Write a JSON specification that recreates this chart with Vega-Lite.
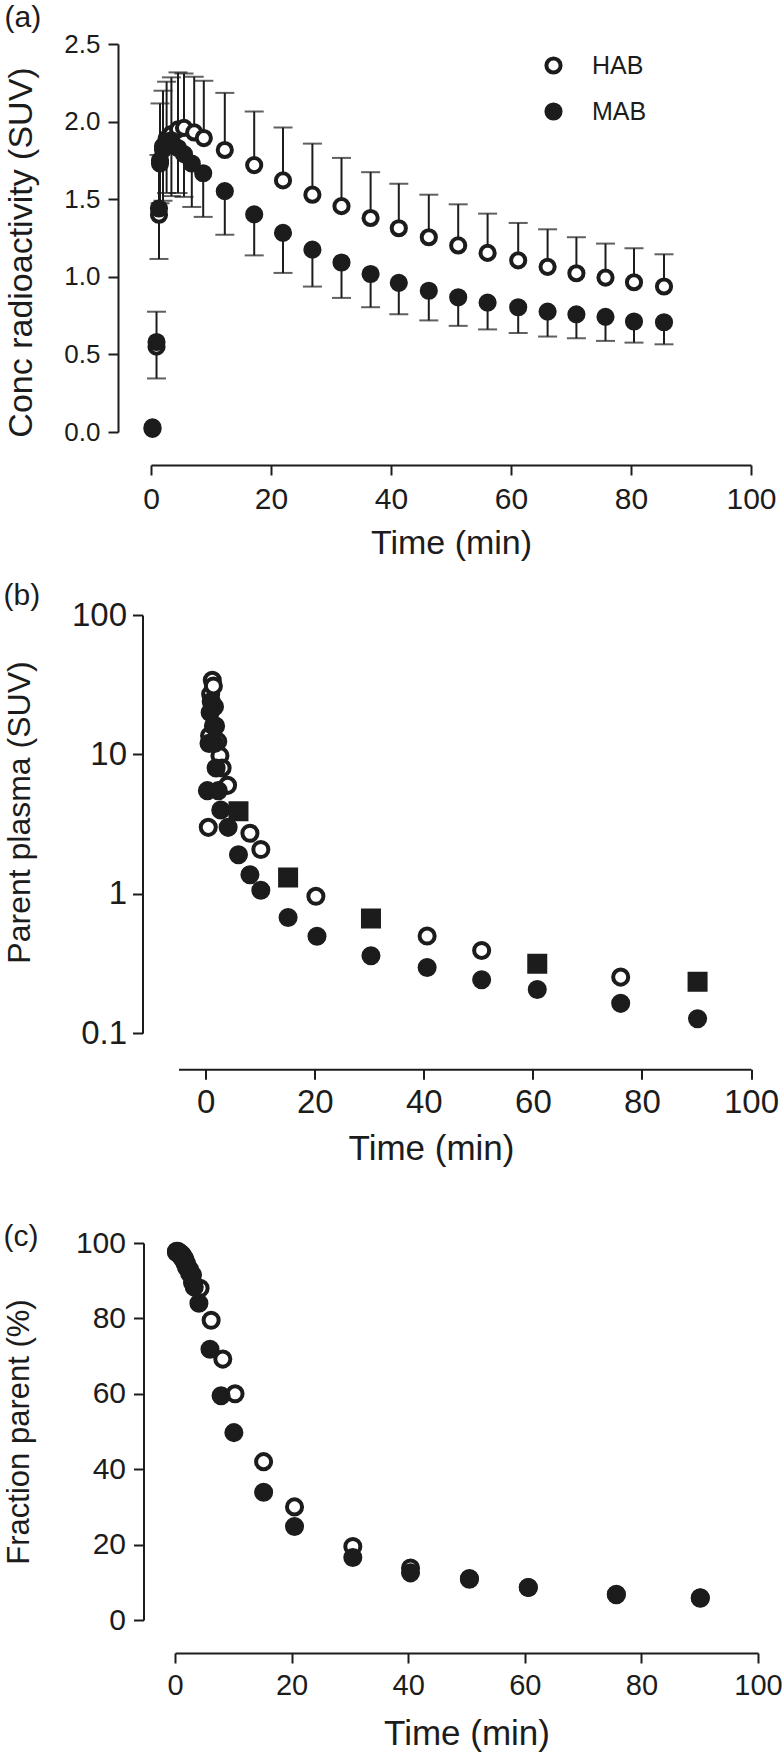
{
  "$schema": "https://vega.github.io/schema/vega-lite/v6.json",
  "background": "white",
  "padding": {"left": 3, "top": 3, "right": 5, "bottom": 5},
  "config": {
    "view": {"stroke": null},
    "font": "Liberation Sans",
    "axis": {"grid": false, "domainColor": "#1c1c1c", "domainWidth": 2, "tickColor": "#1c1c1c", "tickWidth": 2, "tickSize": 10, "labelColor": "#1c1c1c", "titleColor": "#1c1c1c", "titleFontWeight": "normal", "labelFlush": false, "labelOverlap": false, "labelFont": "Liberation Sans", "titleFont": "Liberation Sans"},
    "title": {"fontWeight": "normal", "color": "#1c1c1c", "anchor": "start", "frame": "bounds", "fontSize": 30, "font": "Liberation Sans"}
  },
  "datasets": {
    "a": [
      {"t": 0.25, "g": "HAB", "v": 0.02, "e": null},
      {"t": 0.92, "g": "HAB", "v": 0.55, "e": 0.775},
      {"t": 1.33, "g": "HAB", "v": 1.40, "e": 1.785},
      {"t": 1.5, "g": "HAB", "v": 1.75, "e": 2.117},
      {"t": 2.0, "g": "HAB", "v": 1.84, "e": 2.199},
      {"t": 2.6, "g": "HAB", "v": 1.89, "e": 2.257},
      {"t": 3.4, "g": "HAB", "v": 1.92, "e": 2.285},
      {"t": 4.5, "g": "HAB", "v": 1.95, "e": 2.317},
      {"t": 5.5, "g": "HAB", "v": 1.96, "e": 2.31},
      {"t": 7.2, "g": "HAB", "v": 1.93, "e": 2.289},
      {"t": 8.8, "g": "HAB", "v": 1.894, "e": 2.263},
      {"t": 12.3, "g": "HAB", "v": 1.817, "e": 2.185},
      {"t": 17.2, "g": "HAB", "v": 1.72, "e": 2.065},
      {"t": 22.0, "g": "HAB", "v": 1.621, "e": 1.962},
      {"t": 26.9, "g": "HAB", "v": 1.529, "e": 1.858},
      {"t": 31.75, "g": "HAB", "v": 1.455, "e": 1.766},
      {"t": 36.6, "g": "HAB", "v": 1.379, "e": 1.674},
      {"t": 41.3, "g": "HAB", "v": 1.313, "e": 1.60},
      {"t": 46.3, "g": "HAB", "v": 1.255, "e": 1.529},
      {"t": 51.2, "g": "HAB", "v": 1.202, "e": 1.467},
      {"t": 56.1, "g": "HAB", "v": 1.154, "e": 1.407},
      {"t": 61.2, "g": "HAB", "v": 1.106, "e": 1.347},
      {"t": 66.1, "g": "HAB", "v": 1.064, "e": 1.306},
      {"t": 70.9, "g": "HAB", "v": 1.023, "e": 1.255},
      {"t": 75.75, "g": "HAB", "v": 0.995, "e": 1.214},
      {"t": 80.5, "g": "HAB", "v": 0.965, "e": 1.184},
      {"t": 85.5, "g": "HAB", "v": 0.9375, "e": 1.145},
      {"t": 0.25, "g": "MAB", "v": 0.03, "e": null},
      {"t": 0.92, "g": "MAB", "v": 0.58, "e": 0.345},
      {"t": 1.33, "g": "MAB", "v": 1.44, "e": 1.115},
      {"t": 1.5, "g": "MAB", "v": 1.73, "e": 1.474},
      {"t": 2.0, "g": "MAB", "v": 1.82, "e": 1.49},
      {"t": 2.6, "g": "MAB", "v": 1.86, "e": 1.54},
      {"t": 3.4, "g": "MAB", "v": 1.88, "e": 1.52},
      {"t": 4.5, "g": "MAB", "v": 1.83, "e": 1.54},
      {"t": 5.5, "g": "MAB", "v": 1.79, "e": 1.515},
      {"t": 6.8, "g": "MAB", "v": 1.73, "e": 1.45},
      {"t": 8.7, "g": "MAB", "v": 1.667, "e": 1.386},
      {"t": 12.3, "g": "MAB", "v": 1.552, "e": 1.271},
      {"t": 17.2, "g": "MAB", "v": 1.402, "e": 1.138},
      {"t": 22.0, "g": "MAB", "v": 1.283, "e": 1.025},
      {"t": 26.9, "g": "MAB", "v": 1.175, "e": 0.937},
      {"t": 31.75, "g": "MAB", "v": 1.092, "e": 0.864},
      {"t": 36.6, "g": "MAB", "v": 1.018, "e": 0.804},
      {"t": 41.3, "g": "MAB", "v": 0.961, "e": 0.758},
      {"t": 46.3, "g": "MAB", "v": 0.91, "e": 0.719},
      {"t": 51.2, "g": "MAB", "v": 0.868, "e": 0.684},
      {"t": 56.1, "g": "MAB", "v": 0.834, "e": 0.661},
      {"t": 61.2, "g": "MAB", "v": 0.804, "e": 0.638},
      {"t": 66.1, "g": "MAB", "v": 0.776, "e": 0.615},
      {"t": 70.9, "g": "MAB", "v": 0.758, "e": 0.604},
      {"t": 75.75, "g": "MAB", "v": 0.742, "e": 0.587},
      {"t": 80.5, "g": "MAB", "v": 0.712, "e": 0.576},
      {"t": 85.5, "g": "MAB", "v": 0.707, "e": 0.565}
    ],
    "b": [
      {"t": 0.46, "g": "HAB", "v": 3.0},
      {"t": 0.7, "g": "HAB", "v": 13.6},
      {"t": 0.9, "g": "HAB", "v": 27},
      {"t": 1.2, "g": "HAB", "v": 34},
      {"t": 1.4, "g": "HAB", "v": 31},
      {"t": 1.6, "g": "HAB", "v": 22},
      {"t": 1.8, "g": "HAB", "v": 16},
      {"t": 2.2, "g": "HAB", "v": 12.4},
      {"t": 2.6, "g": "HAB", "v": 9.8},
      {"t": 3.0, "g": "HAB", "v": 8.0},
      {"t": 4.0, "g": "HAB", "v": 6.0},
      {"t": 8.1, "g": "HAB", "v": 2.72},
      {"t": 10.1, "g": "HAB", "v": 2.08},
      {"t": 20.2, "g": "HAB", "v": 0.96},
      {"t": 40.6, "g": "HAB", "v": 0.498},
      {"t": 50.6, "g": "HAB", "v": 0.393},
      {"t": 76.1, "g": "HAB", "v": 0.253},
      {"t": 0.3, "g": "MAB", "v": 5.5},
      {"t": 0.6, "g": "MAB", "v": 12},
      {"t": 0.8, "g": "MAB", "v": 20},
      {"t": 1.0, "g": "MAB", "v": 24},
      {"t": 1.2, "g": "MAB", "v": 22},
      {"t": 1.4, "g": "MAB", "v": 16},
      {"t": 1.6, "g": "MAB", "v": 12},
      {"t": 1.9, "g": "MAB", "v": 8},
      {"t": 2.3, "g": "MAB", "v": 5.5},
      {"t": 2.75, "g": "MAB", "v": 4.0},
      {"t": 4.1, "g": "MAB", "v": 3.0},
      {"t": 6.0, "g": "MAB", "v": 1.91},
      {"t": 8.1, "g": "MAB", "v": 1.37},
      {"t": 10.1, "g": "MAB", "v": 1.06},
      {"t": 15.1, "g": "MAB", "v": 0.676},
      {"t": 20.4, "g": "MAB", "v": 0.497},
      {"t": 30.3, "g": "MAB", "v": 0.36},
      {"t": 40.6, "g": "MAB", "v": 0.296},
      {"t": 50.6, "g": "MAB", "v": 0.242},
      {"t": 60.8, "g": "MAB", "v": 0.206},
      {"t": 76.1, "g": "MAB", "v": 0.164},
      {"t": 90.2, "g": "MAB", "v": 0.127},
      {"t": 6.0, "g": "S", "v": 3.92},
      {"t": 15.1, "g": "S", "v": 1.31},
      {"t": 30.3, "g": "S", "v": 0.667},
      {"t": 60.8, "g": "S", "v": 0.315},
      {"t": 90.2, "g": "S", "v": 0.234}
    ],
    "c": [
      {"t": 0.25, "g": "HAB", "v": 97.8},
      {"t": 0.5, "g": "HAB", "v": 97.8},
      {"t": 0.75, "g": "HAB", "v": 97.5},
      {"t": 1.0, "g": "HAB", "v": 97.2},
      {"t": 1.25, "g": "HAB", "v": 96.8},
      {"t": 1.5, "g": "HAB", "v": 96.2},
      {"t": 1.75, "g": "HAB", "v": 95.5},
      {"t": 2.0, "g": "HAB", "v": 94.5},
      {"t": 2.5, "g": "HAB", "v": 93},
      {"t": 3.0, "g": "HAB", "v": 91.5},
      {"t": 4.3, "g": "HAB", "v": 88},
      {"t": 6.2, "g": "HAB", "v": 79.5},
      {"t": 8.2, "g": "HAB", "v": 69.2},
      {"t": 10.3, "g": "HAB", "v": 60},
      {"t": 15.2, "g": "HAB", "v": 42},
      {"t": 20.5, "g": "HAB", "v": 30},
      {"t": 30.5, "g": "HAB", "v": 19.5},
      {"t": 40.4, "g": "HAB", "v": 13.8},
      {"t": 50.5, "g": "HAB", "v": 11},
      {"t": 60.6, "g": "HAB", "v": 8.6},
      {"t": 75.7, "g": "HAB", "v": 6.8},
      {"t": 90.1, "g": "HAB", "v": 5.9},
      {"t": 0.25, "g": "MAB", "v": 97.5},
      {"t": 0.5, "g": "MAB", "v": 97.4},
      {"t": 0.75, "g": "MAB", "v": 97},
      {"t": 1.0, "g": "MAB", "v": 96.5},
      {"t": 1.25, "g": "MAB", "v": 96},
      {"t": 1.5, "g": "MAB", "v": 95.3},
      {"t": 1.75, "g": "MAB", "v": 94.5},
      {"t": 2.0, "g": "MAB", "v": 93.5},
      {"t": 2.5, "g": "MAB", "v": 92},
      {"t": 3.0, "g": "MAB", "v": 89.5},
      {"t": 3.3, "g": "MAB", "v": 88.3},
      {"t": 4.1, "g": "MAB", "v": 84},
      {"t": 6.0, "g": "MAB", "v": 71.8},
      {"t": 7.9, "g": "MAB", "v": 59.5},
      {"t": 10.1, "g": "MAB", "v": 49.7},
      {"t": 15.2, "g": "MAB", "v": 33.9},
      {"t": 20.5, "g": "MAB", "v": 24.8},
      {"t": 30.5, "g": "MAB", "v": 16.6},
      {"t": 40.4, "g": "MAB", "v": 12.5},
      {"t": 50.5, "g": "MAB", "v": 10.8},
      {"t": 60.6, "g": "MAB", "v": 8.6},
      {"t": 75.7, "g": "MAB", "v": 6.7},
      {"t": 90.1, "g": "MAB", "v": 5.8}
    ]
  },
  "concat": [
    {
      "concat": [
        {
          "width": 600,
          "height": 388,
          "title": {"text": "(a)", "offset": -2},
          "data": {"name": "a"},
          "encoding": {
            "x": {"field": "t", "type": "quantitative", "scale": {"domain": [0, 100], "nice": false, "zero": false},
                  "axis": {"values": [0, 20, 40, 60, 80, 100], "offset": 33, "labelFontSize": 30, "labelPadding": 9, "title": "Time (min)", "titleFontSize": 34, "titleY": 61}}
          },
          "layer": [
            {
              "transform": [{"filter": "isValid(datum.e)"}],
              "mark": {"type": "rule", "strokeWidth": 2, "color": "#1c1c1c"},
              "encoding": {
                "y": {"field": "v", "type": "quantitative", "scale": {"domain": [0, 2.5], "nice": false},
                      "axis": {"values": [0, 0.5, 1, 1.5, 2, 2.5], "format": ".1f", "offset": 33, "labelFontSize": 26, "labelPadding": 8, "title": "Conc radioactivity (SUV)", "titleFontSize": 34, "titleX": -79.5, "titleY": 208}},
                "y2": {"field": "e"}
              }
            },
            {
              "transform": [{"filter": "isValid(datum.e)"}],
              "mark": {"type": "tick", "orient": "horizontal", "size": 19, "thickness": 2, "color": "#1c1c1c"},
              "encoding": {"y": {"field": "e", "type": "quantitative"}}
            },
            {
              "mark": {"type": "point", "shape": "circle", "filled": true, "size": 201, "strokeWidth": 4, "stroke": "#1c1c1c", "opacity": 1},
              "encoding": {
                "y": {"field": "v", "type": "quantitative"},
                "fill": {"field": "g", "type": "nominal", "scale": {"domain": ["HAB", "MAB"], "range": ["white", "#1c1c1c"]},
                         "legend": {"title": null, "orient": "none", "legendX": 390, "legendY": 9, "symbolType": "circle", "symbolSize": 201, "symbolStrokeWidth": 4, "symbolStrokeColor": "#1c1c1c", "symbolOpacity": 1, "labelFontSize": 25, "labelColor": "#1c1c1c", "labelOffset": 26, "rowPadding": 15, "padding": 0}}
              }
            }
          ]
        },
        {
          "hconcat": [
            {"width": 1, "height": 1, "data": {"values": []}, "mark": "point"},
            {
              "width": 572.5,
              "height": 418.3,
              "title": {"text": "(b)", "offset": -12},
              "data": {"name": "b"},
              "encoding": {
                "x": {"field": "t", "type": "quantitative", "scale": {"domain": [-5, 100], "nice": false, "zero": false},
                      "axis": {"values": [0, 20, 40, 60, 80, 100], "offset": 36, "labelFontSize": 33, "labelPadding": 7, "title": "Time (min)", "titleFontSize": 35, "titleX": 252.5, "titleY": 62}},
                "y": {"field": "v", "type": "quantitative", "scale": {"type": "log", "domain": [0.1, 100], "nice": false},
                      "axis": {"values": [0.1, 1, 10, 100], "format": "~g", "offset": 36, "labelFontSize": 33, "labelPadding": 6, "title": "Parent plasma (SUV)", "titleFontSize": 32, "titleX": -106, "titleY": 197}}
              },
              "layer": [
                {"transform": [{"filter": "datum.g == 'HAB'"}], "mark": {"type": "point", "shape": "circle", "filled": true, "fill": "white", "size": 227, "strokeWidth": 4, "stroke": "#1c1c1c", "opacity": 1}},
                {"transform": [{"filter": "datum.g == 'MAB'"}], "mark": {"type": "point", "shape": "circle", "filled": true, "fill": "#1c1c1c", "size": 227, "strokeWidth": 4, "stroke": "#1c1c1c", "opacity": 1}},
                {"transform": [{"filter": "datum.g == 'S'"}], "mark": {"type": "point", "shape": "square", "filled": true, "fill": "#1c1c1c", "size": 256, "strokeWidth": 4, "stroke": "#1c1c1c", "opacity": 1}}
              ]
            }
          ],
          "spacing": 26.5,
          "bounds": "flush"
        }
      ],
      "columns": 1,
      "spacing": 21
    },
    {
      "hconcat": [
        {"width": 1, "height": 1, "data": {"values": []}, "mark": "point"},
        {
          "width": 583,
          "height": 377,
          "title": {"text": "(c)", "offset": -24},
          "data": {"name": "c"},
          "encoding": {
            "x": {"field": "t", "type": "quantitative", "scale": {"domain": [0, 100], "nice": false, "zero": false},
                  "axis": {"values": [0, 20, 40, 60, 80, 100], "offset": 33, "labelFontSize": 29, "labelPadding": 8.6, "title": "Time (min)", "titleFontSize": 35, "titleY": 63}},
            "y": {"field": "v", "type": "quantitative", "scale": {"domain": [0, 100], "nice": false},
                  "axis": {"values": [0, 20, 40, 60, 80, 100], "offset": 31.5, "labelFontSize": 30, "labelPadding": 8, "title": "Fraction parent (%)", "titleFontSize": 31, "titleX": -108}}
          },
          "layer": [
            {"transform": [{"filter": "datum.g == 'HAB'"}], "mark": {"type": "point", "shape": "circle", "filled": true, "fill": "white", "size": 227, "strokeWidth": 4, "stroke": "#1c1c1c", "opacity": 1}},
            {"transform": [{"filter": "datum.g == 'MAB'"}], "mark": {"type": "point", "shape": "circle", "filled": true, "fill": "#1c1c1c", "size": 227, "strokeWidth": 4, "stroke": "#1c1c1c", "opacity": 1}}
          ]
        }
      ],
      "spacing": 23,
      "bounds": "flush"
    }
  ],
  "columns": 1,
  "spacing": 55
}
